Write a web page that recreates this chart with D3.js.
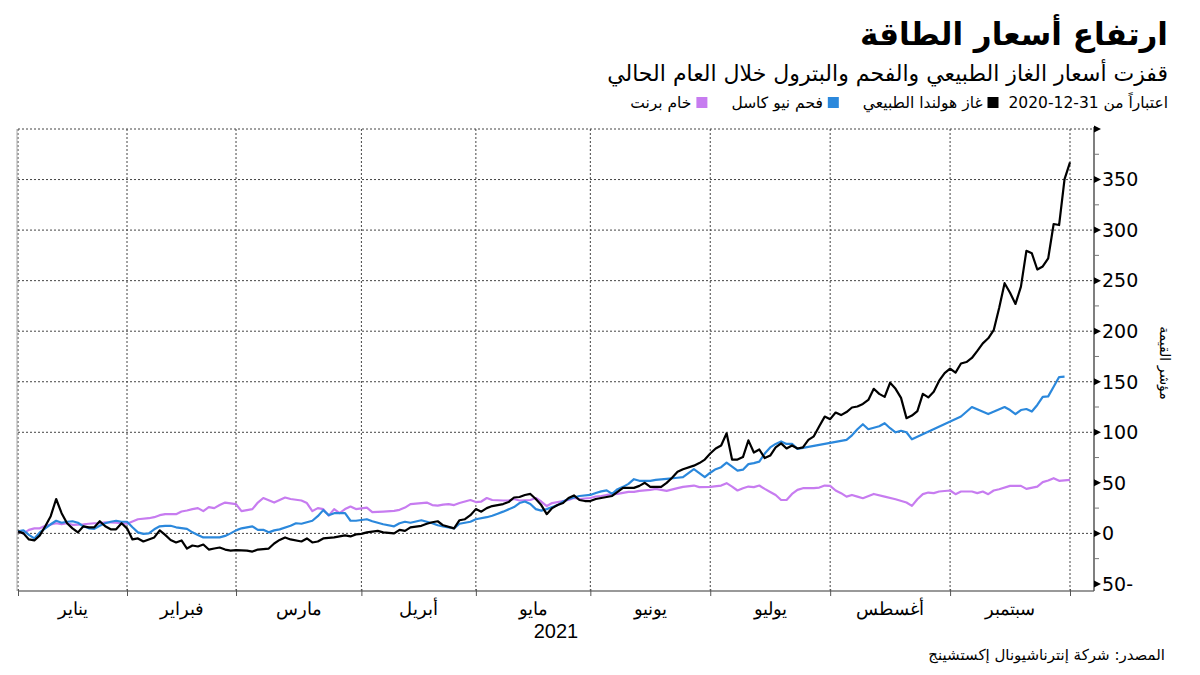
<!DOCTYPE html>
<html lang="ar">
<head>
<meta charset="utf-8">
<script src="https://cdn.jsdelivr.net/npm/d3@7"></script>
<style>
  html, body { margin: 0; padding: 0; background: #fff; }
  svg { display: block; font-family: "DejaVu Sans", sans-serif; }
</style>
</head>
<body>
<svg id="chart" width="1200" height="675"></svg>
<script>
// ---- Data (trading-day index from 31-12-2020, value = % change) ----
const monthLabels = ["يناير", "فبراير", "مارس", "أبريل", "مايو", "يونيو", "يوليو", "أغسطس", "سبتمبر"];
const monthStarts = [0, 20, 40, 63, 84, 105, 127, 149, 171, 193];
const yTicks = [-50, 0, 50, 100, 150, 200, 250, 300, 350, 400];
const yGrid = [0, 100, 150, 200, 250, 300, 350, 400];

const gasDays = [0,1,2,3,4,5,6,7,8,9,10,11,12,13,14,15,16,17,18,19,20,21,22,23,24,25,26,27,28,29,30,31,32,33,34,35,36,37,38,39,40,42,43,44,46,47,48,49,50,52,53,54,55,56,58,59,60,61,62,63,64,66,67,69,70,71,72,74,75,76,77,78,80,81,82,83,84,85,86,87,89,90,91,92,93,94,95,96,97,98,99,100,101,102,103,104,105,106,107,108,109,110,111,113,114,115,116,118,119,120,121,122,124,125,126,127,128,129,130,131,132,133,134,135,136,137,138,139,140,141,142,143,144,145,146,147,148,149,150,151,152,153,154,155,156,157,158,159,160,161,162,163,164,165,166,167,168,169,170,171,172,173,174,175,176,177,178,179,180,181,182,183,184,185,186,187,188,189,190,191,192,193];
const gasValues = [2,0,-6,-7,-2,7,17,34,20,10,5,1,7,6,6,12,7,4,4,10,5,-6,-5,-8,-6,-4,3,-1.5,-6.5,-9,-7,-15,-12,-13,-11,-16,-15,-14,-16,-17,-16.5,-17,-18,-16,-15,-10,-6.5,-4,-6,-8,-5,-9,-8,-5,-4,-3,-2,-3,-1,-0.5,1,2.5,1,0,3.5,2.5,6,7.5,9.5,11,12,8,5,13,14,18,24,21.5,25,27,29,31,35.5,36,38,39,34,28,19,25,28,30,35,37.5,33,32,32,34,35,36,37,41,45,45,47,50,46,46,50,55,61,63.5,67,69.5,73,79,84,87,99,73,73,75.5,92,80,83,74.5,77,85,89,84,87,84,85,92.5,96,106,115.5,113,119.5,117,120,124.5,125.5,128,132,143,138,135,149,143,134,114,116.5,121,138,134.5,140,151,158.5,163,159,168,169.5,173.5,180.5,188,193,201,223,247.5,238,227,244,279.5,277,261,264,272,306,305,350.5,367];

const coalDays = [0,1,2,3,4,5,6,7,8,9,10,11,12,13,14,15,16,17,18,19,20,21,22,23,24,25,26,27,28,29,31,32,33,34,35,37,38,39,40,41,43,44,45,46,47,48,50,51,52,53,54,55,56,57,58,60,61,62,64,65,67,69,70,71,72,74,75,76,77,78,79,80,81,83,84,86,87,88,89,91,92,93,94,95,96,97,99,100,101,102,103,105,106,107,108,109,110,111,112,113,114,116,117,119,121,122,123,124,125,126,127,128,129,130,131,132,133,134,135,136,137,138,139,140,141,142,143,152,153,154,155,156,158,159,160,161,162,163,164,173,175,178,181,182,183,184,185,186,187,188,189,190,191,192];
const coalValues = [2,3,-1.5,-5,1,5,9,12.5,10.5,11.5,12,10.5,7,5,4.5,7.5,10,11.5,12.5,11.5,11.5,6,1,-0.5,0,4,7,7.5,7.5,6,4.5,1,-1.5,-4,-4,-4,-2.5,0,3,5,7,3.5,3.5,1,3,4,7.5,10,9.5,11,12.5,17,23,18,20,20,12.5,12.5,14,12,9,7,10,11.5,10.5,13,11.5,10,8,7,6,5,9.5,11.5,14,16,17.5,19.5,21.5,26,30,31.5,29,24,22.5,24,28,31.5,34,35.5,37,38,40,41.5,42.5,39,43.7,46,49,53.6,52,52,53,54,55,55.6,59.6,63.5,59.6,55.6,60,63.5,65.5,70,66,62,63,68.5,69.5,71,79,85,88.5,91,88.5,88.5,83.6,92.5,97,103,108,103,106,109,104,100,101.5,100,93,115.6,125,118,125,122,118,122,123,120.5,127,135,135.5,145,154.6,155];

const brentDays = [0,1,2,3,4,5,7,8,9,10,12,13,14,15,16,18,19,20,21,22,24,25,26,27,29,30,31,32,33,34,35,36,37,38,40,41,43,44,45,47,49,50,52,53,54,55,56,57,58,59,60,61,62,64,65,67,69,70,71,72,74,75,76,77,78,79,80,81,83,84,85,86,87,89,90,91,92,94,95,96,97,98,100,101,102,103,105,106,107,108,110,111,112,113,114,116,117,119,121,122,124,125,127,129,130,131,132,133,134,135,136,137,138,139,140,141,142,143,144,146,147,148,149,150,151,152,153,154,155,157,159,161,163,164,165,166,167,168,169,171,172,173,175,176,177,178,179,180,182,184,185,187,188,189,190,191,193];
const brentValues = [2,0,3.5,5,5,7.5,10,9,10,8.5,9,9.5,10,10,11,10.7,10,9.5,11.7,14,15,16,18,19,19,21.6,22.6,24,25,22,26,25,28,30.5,29,22,24,30.5,35,30.5,35.5,34,32.5,30,22,25,24,17.6,24,20,24,26.5,24,25.5,21,21.6,22.3,23.3,25.5,29,30,30.5,28,27.5,28.5,29,28,30,33,31,31.5,35,33,32.5,32.5,34,32.5,33,35,31.5,27,30,32,33,35,34,35,36.5,37,38,39,40,41,41,42,43,44,42,44.7,46,47.3,45.7,46,47.3,49.7,46.3,42.4,44.7,46.3,45.7,47.3,44,41,38,33,33,39,43,44.7,44.7,45.3,47.3,47,42.4,39.8,36.4,38,36.4,34.8,39,36.4,33.8,30.5,27.2,33.8,38.8,40.4,39.8,41.4,42.4,38.8,41.4,41.4,39.8,41.4,38.8,42.4,43.7,47,47,44,46.3,50.7,52.3,54.6,52,53];

const seriesNames = ["غاز هولندا الطبيعي", "فحم نيو كاسل", "خام برنت"];
const seriesColors = ["#000000", "#2b88dc", "#c77cf0"];

const titleText = "ارتفاع أسعار الطاقة";
const subtitleText = "قفزت أسعار الغاز الطبيعي والفحم والبترول خلال العام الحالي";
const legendPrefix = "اعتباراً من 31-12-2020";
const yAxisLabel = "مؤشر القيمة";
const yearLabel = "2021";
const sourceText = "المصدر: شركة إنترناشيونال إكستشينج";

// ---- Layout ----
const svg = d3.select("#chart");
const L = 18, R = 1094, T = 129, B = 591;
const x = d3.scaleLinear().domain([0, 193]).range([L, 1070]);
const y = d3.scaleLinear().domain([-57, 400]).range([B, T]);

// Title block
svg.append("text").attr("x", 1168).attr("y", 45)
  .attr("direction", "rtl").attr("text-anchor", "start")
  .attr("font-size", 31).attr("font-weight", "bold").attr("fill", "#000")
  .text(titleText);
svg.append("text").attr("x", 1168).attr("y", 81)
  .attr("direction", "rtl").attr("text-anchor", "start")
  .attr("font-size", 22).attr("fill", "#000")
  .text(subtitleText);

// Legend
const lg = svg.append("g");
let lx = 1168;
const ly = 108;
const prefix = lg.append("text").attr("x", lx).attr("y", ly)
  .attr("direction", "rtl").attr("text-anchor", "start")
  .attr("font-size", 15.5).text(legendPrefix);
lx -= prefix.node().getComputedTextLength() + 10;
seriesNames.forEach((name, i) => {
  lg.append("rect").attr("x", lx - 11).attr("y", ly - 11).attr("width", 11).attr("height", 11)
    .attr("fill", seriesColors[i]);
  lx -= 16;
  const t = lg.append("text").attr("x", lx).attr("y", ly)
    .attr("direction", "rtl").attr("text-anchor", "start")
    .attr("font-size", 15.5).text(name);
  lx -= t.node().getComputedTextLength() + 24;
});

// Grid
const grid = svg.append("g");
grid.selectAll("line.h").data(yGrid).join("line")
  .attr("x1", L).attr("x2", R)
  .attr("y1", d => y(d)).attr("y2", d => y(d))
  .attr("stroke", "#444").attr("stroke-width", 1).attr("stroke-dasharray", "2,2");
grid.selectAll("line.v").data(monthStarts).join("line")
  .attr("x1", d => x(d)).attr("x2", d => x(d))
  .attr("y1", T).attr("y2", B)
  .attr("stroke", "#444").attr("stroke-width", 1).attr("stroke-dasharray", "2,2");
svg.append("line").attr("x1", L - 1).attr("x2", L - 1).attr("y1", T).attr("y2", B)
  .attr("stroke", "#aaa").attr("stroke-width", 1);

// X axis
const xAxisG = svg.append("g").attr("transform", `translate(0,${B})`);
xAxisG.append("line").attr("x1", L).attr("x2", R).attr("y1", 0).attr("y2", 0)
  .attr("stroke", "#777").attr("stroke-width", 1.5);
xAxisG.call(d3.axisBottom(x).tickValues(monthStarts).tickSize(5).tickFormat(""))
  .call(g => g.select(".domain").remove())
  .call(g => g.selectAll(".tick line").attr("stroke", "#555").attr("y1", -2));
const monthMids = monthLabels.map((m, i) => ({ m, mid: (monthStarts[i] + monthStarts[i + 1]) / 2 }));
xAxisG.selectAll("text.month").data(monthMids).join("text")
  .attr("class", "month")
  .attr("x", d => x(d.mid)).attr("y", 24)
  .attr("text-anchor", "middle").attr("font-size", 18).attr("fill", "#000")
  .text(d => d.m);
xAxisG.append("text").attr("x", (L + R) / 2).attr("y", 47)
  .attr("text-anchor", "middle").attr("font-size", 20).attr("fill", "#000")
  .text(yearLabel);

// Y axis
const yAxisG = svg.append("g").attr("transform", `translate(${R},0)`);
yAxisG.append("line").attr("x1", 0).attr("x2", 0).attr("y1", T - 2).attr("y2", B)
  .attr("stroke", "#555").attr("stroke-width", 1.5);
const minorTicks = d3.range(-25, 400, 50);
yAxisG.selectAll("line.minor").data(minorTicks).join("line")
  .attr("x1", 0).attr("x2", 5).attr("y1", d => y(d)).attr("y2", d => y(d))
  .attr("stroke", "#777").attr("stroke-width", 1);
yAxisG.selectAll("path.tri").data(yTicks).join("path")
  .attr("d", d => `M0,${y(d) - 3.5}L7,${y(d)}L0,${y(d) + 3.5}Z`)
  .attr("fill", "#000");
yAxisG.selectAll("text.yl").data(yTicks.filter(d => d < 400)).join("text")
  .attr("x", 8).attr("y", d => y(d)).attr("dy", "0.36em")
  .attr("font-size", 19).attr("fill", "#000")
  .attr("text-anchor", "start")
  .text(d => d < 0 ? `${Math.abs(d)}-` : d);
svg.append("text")
  .attr("transform", `translate(1160,363) rotate(90)`)
  .attr("text-anchor", "middle").attr("font-size", 14).attr("fill", "#000")
  .text(yAxisLabel);

// Lines
const line = d3.line().x(d => x(d[0])).y(d => y(d[1]));
const series = [
  { days: brentDays, values: brentValues, color: seriesColors[2], w: 2.2 },
  { days: coalDays, values: coalValues, color: seriesColors[1], w: 2.2 },
  { days: gasDays, values: gasValues, color: seriesColors[0], w: 2.2 }
];
svg.append("g").selectAll("path.s").data(series).join("path")
  .attr("d", s => line(s.days.map((d, i) => [d, s.values[i]])))
  .attr("fill", "none").attr("stroke", s => s.color).attr("stroke-width", s => s.w)
  .attr("stroke-linejoin", "round");

// Source
svg.append("text").attr("x", 1165).attr("y", 660)
  .attr("direction", "rtl").attr("text-anchor", "start")
  .attr("font-size", 15).attr("fill", "#000")
  .text(sourceText);
</script>
</body>
</html>
